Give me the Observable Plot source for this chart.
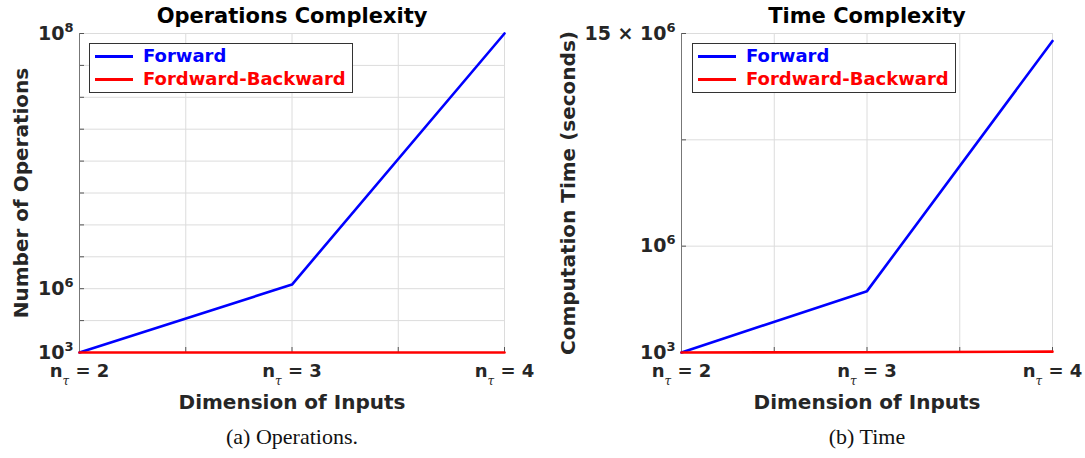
<!DOCTYPE html>
<html>
<head>
<meta charset="utf-8">
<script src="https://cdn.jsdelivr.net/npm/d3@7"></script>
<script src="https://cdn.jsdelivr.net/npm/@observablehq/plot@0.6"></script>
<style>
  body { margin: 0; background: #fff; }
  #wrap { position: relative; width: 1085px; height: 458px; overflow: hidden; }
  .panel { position: absolute; top: 0; }
  .legend { position: absolute; border: 1px solid #333; background: #fff; box-sizing: border-box;
            font-family: "DejaVu Sans", sans-serif; font-weight: bold; font-size: 18px; }
  .legend .sw { position: absolute; height: 2.5px; }
  .legend .lb { position: absolute; line-height: 20px; white-space: nowrap; }
</style>
</head>
<body>
<div id="wrap"></div>
<script>
// ---------- data ----------
const dims = [2, 3, 4];
const xGridTicks = [2, 2.5, 3, 3.5, 4];
const xTickLabels = ["n_τ = 2", "n_τ = 3", "n_τ = 4"];
const seriesNames = ["Forward", "Fordward-Backward"];
const seriesColors = ["#0000ff", "#ff0000"];

// panel (a): positions on the figure's own (non-uniform) y axis
const opsForward = [0, 2.13, 10];
const opsForwardBackward = [0, 0, 0];
const opsGridTicks = [0, 1, 2, 3, 4, 5, 6, 7, 8, 9, 10];
const opsTickValues = [0, 2, 10];
const opsTickLabels = ["10^3", "10^6", "10^8"];

// panel (b)
const timeForward = [0, 0.577, 2.93];
const timeForwardBackward = [0, 0.002, 0.008];
const timeGridTicks = [0, 1, 2, 3];
const timeTickValues = [0, 1, 3];
const timeTickLabels = ["10^3", "10^6", "15 × 10^6"];

// ---------- drawing ----------
const NS = "http://www.w3.org/2000/svg";
function makePanel(cfg) {
  const frameW = cfg.width - cfg.marginLeft - cfg.marginRight;
  const frameH = cfg.height - cfg.marginTop - cfg.marginBottom;
  const yLab = new Map(cfg.yTickValues.map((v, i) => [v, cfg.yTickLabels[i]]));
  const xLab = new Map(dims.map((v, i) => [v, xTickLabels[i]]));
  const rows = (vals, s) => dims.map((d, i) => ({x: d, y: vals[i], s}));
  const svg = Plot.plot({
    width: cfg.width,
    height: cfg.height,
    marginTop: cfg.marginTop,
    marginBottom: cfg.marginBottom,
    marginLeft: cfg.marginLeft,
    marginRight: cfg.marginRight,
    x: {domain: [2, 4]},
    y: {domain: [0, cfg.yMax]},
    style: {fontFamily: "DejaVu Sans", overflow: "visible", background: "transparent"},
    marks: [
      Plot.gridX(xGridTicks, {stroke: "#dcdcdc", strokeOpacity: 1}),
      Plot.gridY(cfg.yGridTicks, {stroke: "#dcdcdc", strokeOpacity: 1}),
      Plot.tickX(xGridTicks, {x: d => d, insetTop: frameH - 5, stroke: "#555"}),
      Plot.tickY(cfg.yGridTicks, {y: d => d, insetRight: frameW - 5, stroke: "#555"}),
      Plot.ruleX([2], {stroke: "#777"}),
      Plot.ruleY([0], {stroke: "#777"}),
      Plot.axisY(cfg.yTickValues, {tickSize: 0, tickPadding: 6, tickFormat: d => yLab.get(d), label: null,
        fontSize: 19, fontWeight: "bold", fill: "#262626"}),
      Plot.axisX(dims, {tickSize: 0, tickPadding: 12, tickFormat: d => xLab.get(d), label: null,
        fontSize: 18, fontWeight: "bold", fill: "#262626"}),
      Plot.line(rows(cfg.forward, 0), {x: "x", y: "y", stroke: seriesColors[0], strokeWidth: 2.6}),
      Plot.line(rows(cfg.fb, 1), {x: "x", y: "y", stroke: seriesColors[1], strokeWidth: 2.6}),
      Plot.text([cfg.title], {text: d => d, frameAnchor: "top", lineAnchor: "middle", textAnchor: "middle",
        dy: -17, fontSize: 21, fontWeight: "bold", fill: "#000"}),
      Plot.text([cfg.xLabel], {text: d => d, frameAnchor: "bottom", lineAnchor: "middle", textAnchor: "middle",
        dy: 50, fontSize: 20, fontWeight: "bold", fill: "#262626"}),
      Plot.text([cfg.yLabel], {text: d => d, frameAnchor: "left", lineAnchor: "middle", textAnchor: "middle",
        dx: cfg.yLabelDx, rotate: -90, fontSize: 20, fontWeight: "bold", fill: "#262626"}),
      Plot.text([cfg.caption], {text: d => d, frameAnchor: "bottom", lineAnchor: "middle", textAnchor: "middle",
        dy: 84, fontSize: 22, fontFamily: "Liberation Serif", fill: "#111"})
    ]
  });
  // superscripts on y tick labels
  svg.querySelectorAll('g[aria-label="y-axis tick label"] text').forEach(t => {
    const s = t.textContent;
    if (!s.includes("^")) return;
    const [base, exp] = s.split("^");
    t.textContent = "";
    const a = document.createElementNS(NS, "tspan");
    a.textContent = base;
    const b = document.createElementNS(NS, "tspan");
    b.textContent = exp;
    b.setAttribute("dy", "-8");
    b.setAttribute("font-size", "13");
    t.append(a, b);
  });
  // subscripts on x tick labels
  svg.querySelectorAll('g[aria-label="x-axis tick label"] text').forEach(t => {
    const s = t.textContent;
    if (!s.includes("_")) return;
    const [pre, rest] = s.split("_");
    const sub = rest[0], post = rest.slice(1);
    t.textContent = "";
    const a = document.createElementNS(NS, "tspan"); a.textContent = pre;
    const b = document.createElementNS(NS, "tspan"); b.textContent = sub;
    b.setAttribute("dy", "8"); b.setAttribute("font-size", "12");
    b.setAttribute("font-family", "DejaVu Serif"); b.setAttribute("font-style", "italic"); b.setAttribute("font-weight", "normal");
    const c = document.createElementNS(NS, "tspan"); c.textContent = post;
    c.setAttribute("dy", "-8");
    t.append(a, b, c);
  });
  return svg;
}

function makeLegend(left, top) {
  const lg = document.createElement("div");
  lg.className = "legend";
  Object.assign(lg.style, {left: left + "px", top: top + "px", width: "264px", height: "50px"});
  seriesNames.forEach((n, i) => {
    const sw = document.createElement("div");
    sw.className = "sw";
    Object.assign(sw.style, {left: "5px", width: "38px", top: (11 + i * 23) + "px", background: seriesColors[i]});
    const lb = document.createElement("div");
    lb.className = "lb";
    lb.textContent = n;
    Object.assign(lb.style, {left: "53px", top: (2 + i * 23) + "px", color: seriesColors[i]});
    lg.append(sw, lb);
  });
  return lg;
}

const wrap = document.getElementById("wrap");

const pa = makePanel({
  width: 540, height: 458, marginTop: 33, marginBottom: 106, marginLeft: 79, marginRight: 36,
  yMax: 10, yGridTicks: opsGridTicks, yTickValues: opsTickValues, yTickLabels: opsTickLabels,
  forward: opsForward, fb: opsForwardBackward,
  title: "Operations Complexity", xLabel: "Dimension of Inputs", yLabel: "Number of Operations",
  yLabelDx: -58, caption: "(a) Operations."
});
pa.classList.add("panel"); pa.style.left = "0px";
wrap.append(pa);

const pb = makePanel({
  width: 545, height: 458, marginTop: 33, marginBottom: 106, marginLeft: 141, marginRight: 33,
  yMax: 3, yGridTicks: timeGridTicks, yTickValues: timeTickValues, yTickLabels: timeTickLabels,
  forward: timeForward, fb: timeForwardBackward,
  title: "Time Complexity", xLabel: "Dimension of Inputs", yLabel: "Computation Time (seconds)",
  yLabelDx: -113, caption: "(b) Time"
});
pb.classList.add("panel"); pb.style.left = "540px";
wrap.append(pb);

wrap.append(makeLegend(89, 43));
wrap.append(makeLegend(692, 43));
</script>
</body>
</html>
